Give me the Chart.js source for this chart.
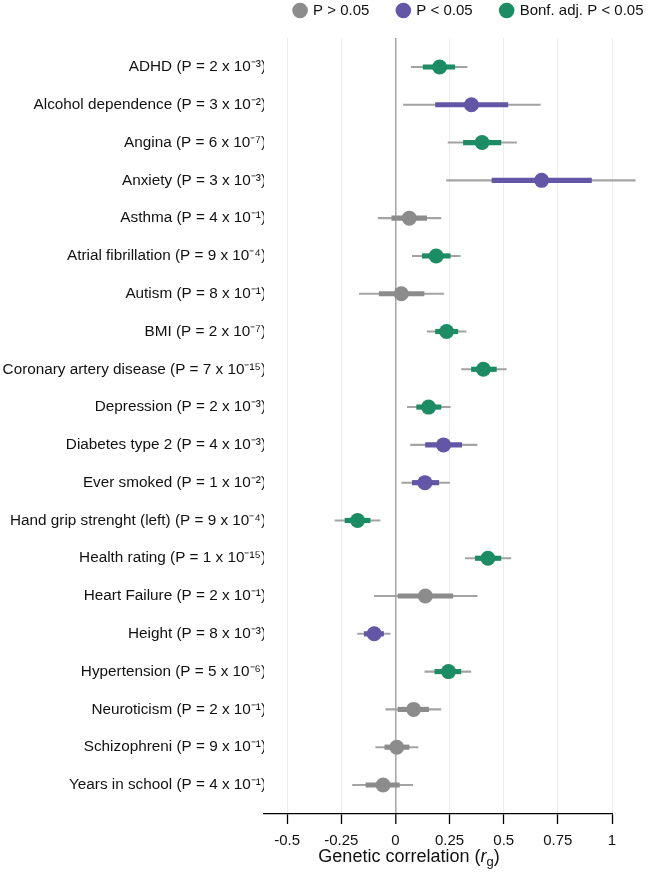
<!DOCTYPE html>
<html>
<head>
<meta charset="utf-8">
<script src="https://cdn.jsdelivr.net/npm/chart.js@4"></script>
<style>
  html, body { margin: 0; padding: 0; background: #fff; }
  #wrap { width: 652px; height: 879px; position: relative; }
</style>
</head>
<body>
<div id="wrap"><canvas id="forest"></canvas></div>
<script>
// traits, p-values and genetic correlations
var traits = ['ADHD', 'Alcohol dependence', 'Angina', 'Anxiety', 'Asthma',
  'Atrial fibrillation', 'Autism', 'BMI', 'Coronary artery disease', 'Depression',
  'Diabetes type 2', 'Ever smoked', 'Hand grip strenght (left)', 'Health rating',
  'Heart Failure', 'Height', 'Hypertension', 'Neuroticism', 'Schizophreni', 'Years in school'];
var pMant = [2, 3, 6, 3, 4, 9, 8, 2, 7, 2, 4, 1, 9, 1, 2, 8, 5, 2, 9, 4];
var pExp  = [-3, -2, -7, -3, -1, -4, -1, -7, -15, -3, -3, -2, -4, -15, -1, -3, -6, -1, -1, -1];
// 'ns' = P > 0.05, 'nom' = P < 0.05, 'bonf' = Bonferroni adjusted P < 0.05
var group = ['bonf', 'nom', 'bonf', 'nom', 'ns', 'bonf', 'ns', 'bonf', 'bonf', 'bonf',
  'nom', 'nom', 'bonf', 'bonf', 'ns', 'nom', 'bonf', 'ns', 'ns', 'ns'];

var rg   = [0.204, 0.351, 0.400, 0.675, 0.064, 0.188, 0.027, 0.236, 0.406, 0.153,
            0.222, 0.136, -0.175, 0.427, 0.138, -0.098, 0.245, 0.084, 0.006, -0.057];
// thin line (95% CI)
var ciLo = [0.073, 0.037, 0.243, 0.236, -0.080, 0.078, -0.167, 0.147, 0.305, 0.055,
            0.070, 0.029, -0.279, 0.323, -0.097, -0.175, 0.136, -0.045, -0.091, -0.198];
var ciHi = [0.331, 0.669, 0.559, 1.107, 0.210, 0.299, 0.222, 0.326, 0.512, 0.253,
            0.377, 0.250, -0.071, 0.533, 0.377, -0.025, 0.348, 0.210, 0.104, 0.080];
// thick line (+/- 1 SE)
var seLo = [0.128, 0.185, 0.314, 0.446, -0.017, 0.124, -0.075, 0.185, 0.351, 0.098,
            0.139, 0.078, -0.233, 0.369, 0.012, -0.144, 0.182, 0.012, -0.049, -0.136];
var seHi = [0.274, 0.519, 0.487, 0.905, 0.144, 0.253, 0.132, 0.288, 0.466, 0.210,
            0.306, 0.200, -0.117, 0.487, 0.265, -0.055, 0.302, 0.153, 0.063, 0.018];

var xTicks = [-0.5, -0.25, 0, 0.25, 0.5, 0.75, 1];
var groupNames = ['ns', 'nom', 'bonf'];
var legendLabels = ['P > 0.05', 'P < 0.05', 'Bonf. adj. P < 0.05'];
var groupColors = { ns: '#8c8c8c', nom: '#6456a6', bonf: '#1c8c64' };

var FONT = '"Liberation Sans", Arial, Helvetica, sans-serif';

var SUP = { '0': '⁰', '1': '¹', '2': '²', '3': '³', '4': '⁴', '5': '⁵', '6': '⁶', '7': '⁷', '8': '⁸', '9': '⁹', '-': '⁻' };
function sup(n) {
  return String(n).split('').map(function (ch) { return SUP[ch]; }).join('');
}
var labels = traits.map(function (t, i) {
  return t + ' (P = ' + pMant[i] + ' x 10' + sup(pExp[i]) + ')';
});

// point datasets, one per significance class
var pointSets = groupNames.map(function (g, k) {
  var pts = [];
  rg.forEach(function (v, i) { if (group[i] === g) pts.push({ x: v, y: i }); });
  return {
    type: 'scatter',
    label: legendLabels[k],
    data: pts,
    backgroundColor: groupColors[g],
    borderColor: groupColors[g],
    borderWidth: 0,
    pointRadius: 7.5,
    pointBorderWidth: 0,
    pointStyle: 'circle',
    order: 0
  };
});

var thickBars = {
  type: 'bar',
  label: 'se',
  data: rg.map(function (v, i) { return { x: [seLo[i], seHi[i]], y: i }; }),
  backgroundColor: group.map(function (g) { return groupColors[g]; }),
  barThickness: 4.5,
  grouped: false,
  borderWidth: 0,
  order: 1
};
var thinBars = {
  type: 'bar',
  label: 'ci',
  data: rg.map(function (v, i) { return { x: [ciLo[i], ciHi[i]], y: i }; }),
  backgroundColor: '#a3a3a3',
  barThickness: 1.4,
  grouped: false,
  borderWidth: 0,
  clip: false,
  order: 2
};

var axisTitle = {
  id: 'axisTitle',
  afterDraw: function (chart) {
    var c = chart.ctx;
    var parts = [
      ['Genetic correlation (', '18px ' + FONT, 0],
      ['r', 'italic 18px ' + FONT, 0],
      ['g', '13px ' + FONT, 4],
      [')', '18px ' + FONT, 0]
    ];
    c.save();
    c.fillStyle = '#111';
    c.textAlign = 'left';
    c.textBaseline = 'alphabetic';
    var total = 0;
    parts.forEach(function (p) { c.font = p[1]; total += c.measureText(p[0]).width; });
    var x = 409 - total / 2;
    parts.forEach(function (p) {
      c.font = p[1];
      c.fillText(p[0], x, 862 + p[2]);
      x += c.measureText(p[0]).width;
    });
    c.restore();
  }
};

new Chart(document.getElementById('forest'), {
  type: 'bar',
  data: { datasets: [thinBars, thickBars].concat(pointSets) },
  plugins: [axisTitle],
  options: {
    indexAxis: 'y',
    responsive: true,
    maintainAspectRatio: false,
    animation: false,
    events: [],
    layout: { padding: { top: -25.5, right: -20, left: 0, bottom: 0 } },
    plugins: {
      tooltip: { enabled: false },
      legend: {
        position: 'top',
        align: 'end',
        labels: {
          usePointStyle: true,
          boxWidth: 11,
          boxHeight: 11,
          padding: 28.5,
          color: '#111',
          font: { family: FONT, size: 15 },
          filter: function (item) { return item.datasetIndex >= 2; }
        }
      }
    },
    scales: {
      x: {
        type: 'linear',
        position: 'bottom',
        min: -0.607,
        max: 1,
        afterBuildTicks: function (s) { s.ticks = xTicks.map(function (v) { return { value: v }; }); },
        afterFit: function (s) { s.height = 65; },
        ticks: {
          color: '#111',
          padding: 8,
          font: { family: FONT, size: 15 },
          callback: function (v) { return String(v); }
        },
        grid: {
          color: function (c) { return c.tick && c.tick.value === 0 ? '#a9a9a9' : '#ececec'; },
          lineWidth: function (c) { return c.tick && c.tick.value === 0 ? 1.6 : 1; },
          tickColor: '#000',
          tickLength: 10,
          tickWidth: 1.3
        },
        border: { display: true, color: '#000', width: 1.3 }
      },
      y: {
        type: 'linear',
        position: 'left',
        reverse: true,
        offset: false,
        min: -0.767,
        max: 19.768,
        afterBuildTicks: function (s) { s.ticks = labels.map(function (l, i) { return { value: i }; }); },
        afterFit: function (s) { s.width = 264; },
        ticks: {
          color: '#111',
          padding: -2,
          font: { family: FONT, size: 15.3 },
          callback: function (v) { return labels[v]; }
        },
        grid: { display: false, drawTicks: false, offset: false },
        border: { display: false }
      },
      xTop: {
        type: 'linear',
        position: 'top',
        afterFit: function (s) { s.height = 10; },
        ticks: { display: false },
        grid: { display: false, drawTicks: false },
        border: { display: false }
      },
      yRight: {
        type: 'linear',
        position: 'right',
        afterFit: function (s) { s.width = 60; },
        ticks: { display: false },
        grid: { display: false, drawTicks: false },
        border: { display: false }
      }
    }
  }
});
</script>
</body>
</html>
